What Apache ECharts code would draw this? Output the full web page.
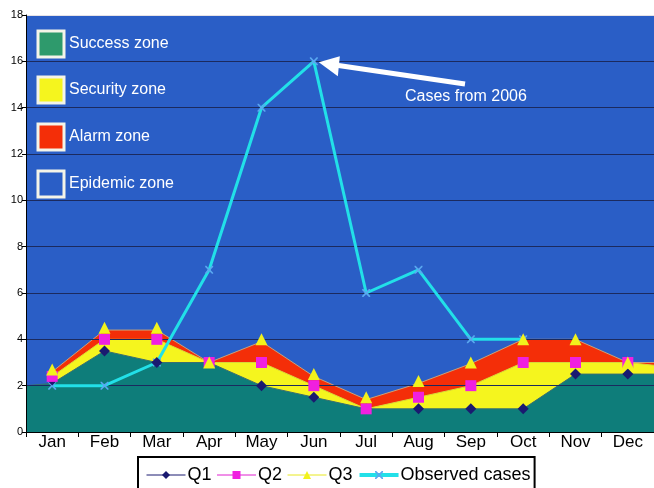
<!DOCTYPE html>
<html><head><meta charset="utf-8">
<script src="https://cdn.jsdelivr.net/npm/echarts@6/dist/echarts.min.js"></script>
<style>html,body{margin:0;padding:0;background:#fff}#c{width:654px;height:488px}</style>
</head><body><div id="c"></div>
<script>
const months = ['Jan','Feb','Mar','Apr','May','Jun','Jul','Aug','Sep','Oct','Nov','Dec'];
const yTicks = [0,2,4,6,8,10,12,14,16,18];
// marker series
const q1 = [2.25,3.5,3,3,2,1.5,1,1,1,1,2.5,2.5];
const q2 = [2.4,4,4,3,3,2,1,1.5,2,3,3,3];
const q3 = [2.7,4.5,4.5,3,4,2.5,1.5,2.2,3,4,4,3];
const observed = [2,2,3,7,14,16,6,7,4,4,null,null];
// zone upper boundaries (monthly) and their values at the plot edges
const successZone = [2.1,3.5,3,3,2,1.5,1,1,1,1,2.5,2.5];
const successEdges = [2,2.5];
const securityZone = [2.4,4,4,3,3,2,1,1.5,2,3,3,3];
const securityEdges = [null,2.88];
const alarmZone = [2.6,4.4,4.4,3,3.9,2.4,1.4,2.1,2.95,4,4,3];
const alarmEdges = [null,3];
const zoneNames = ['Success zone','Security zone','Alarm zone','Epidemic zone'];
const annotationText = 'Cases from 2006';

function zoneData(vals, edges){
  const d = [];
  if (edges[0] !== null) d.push([0, edges[0]]);
  vals.forEach((v,i)=>d.push([i+0.5, v]));
  if (edges[1] !== null) d.push([vals.length, edges[1]]);
  return d;
}
const BLUE = '#2a5ec6', TEAL = '#0e7d7a', YELLOW = '#f5f51e', RED = '#f42e08';
const xSym = 'path://M0,0L1.5,0L5,3.5L8.5,0L10,0L10,1.5L6.5,5L10,8.5L10,10L8.5,10L5,6.5L1.5,10L0,10L0,8.5L3.5,5L0,1.5Z';
const gridColors = yTicks.map((t,i)=> i===yTicks.length-1 ? '#e6e2e6' : '#1b2a5e');

const chart = echarts.init(document.getElementById('c'));
const font = 'Liberation Sans, Arial, sans-serif';
chart.setOption({
  animation:false,
  textStyle:{fontFamily:font},
  grid:{left:26,right:0,top:15,bottom:56,show:true,backgroundColor:BLUE,borderWidth:0,z:0},
  xAxis:[{
    type:'category',data:months,boundaryGap:true,z:1.5,
    axisLine:{lineStyle:{color:'#000',width:1}},
    axisTick:{show:true,length:5,lineStyle:{color:'#000'}},
    axisLabel:{color:'#000',fontSize:17,margin:2,fontFamily:font}
  },{
    type:'value',min:0,max:12,show:false
  }],
  yAxis:{
    type:'value',min:0,max:18,interval:2,z:1.5,
    axisLine:{show:true,lineStyle:{color:'#000',width:1}},
    axisTick:{show:true,length:4,lineStyle:{color:'#000'}},
    axisLabel:{color:'#000',fontSize:11,margin:3,fontFamily:font,
      formatter:v=>yTicks.includes(v)?String(v):''},
    splitLine:{show:true,lineStyle:{color:gridColors,width:1.2}}
  },
  legend:{
    left:138,top:457,padding:[9,4,12,8],itemGap:5,itemWidth:39,itemHeight:10,
    borderColor:'#000',borderWidth:2,backgroundColor:'#fff',
    textStyle:{color:'#000',fontSize:18,fontFamily:font,padding:[0,0,0,-3]},
    data:[
      {name:'Q1',lineStyle:{opacity:1,color:'#1a1a70',width:1}},
      {name:'Q2',lineStyle:{opacity:1,color:'#e020d0',width:1}},
      {name:'Q3',lineStyle:{opacity:1,color:'#e8e820',width:1}},
      {name:'Observed cases',lineStyle:{opacity:1,color:'#22e0e8',width:4}}
    ]
  },
  series:[
    {name:'alarm',type:'line',xAxisIndex:1,data:zoneData(alarmZone,alarmEdges),symbol:'none',z:1,
      lineStyle:{color:'#c9a27a',width:1},areaStyle:{color:RED,opacity:1}},
    {name:'security',type:'line',xAxisIndex:1,data:zoneData(securityZone,securityEdges),symbol:'none',z:1,
      lineStyle:{color:'#d8d83a',width:1},areaStyle:{color:YELLOW,opacity:1}},
    {name:'success',type:'line',xAxisIndex:1,data:zoneData(successZone,successEdges),symbol:'none',z:1,
      lineStyle:{color:'#3a6e70',width:1},areaStyle:{color:TEAL,opacity:1}},
    {name:'Observed cases',type:'line',data:observed,z:3,symbol:xSym,symbolSize:8,
      itemStyle:{color:'#5aa8f0'},lineStyle:{color:'#22e0e8',width:3}},
    {name:'Q1',type:'line',data:q1,z:4,symbol:'diamond',symbolSize:11,
      itemStyle:{color:'#1a1a70'},lineStyle:{opacity:0}},
    {name:'Q2',type:'line',data:q2,z:5,symbol:'rect',symbolSize:11,
      itemStyle:{color:'#f020e0'},lineStyle:{opacity:0}},
    {name:'Q3',type:'line',data:q3,z:6,symbol:'triangle',symbolSize:12,
      itemStyle:{color:'#f2f21c'},lineStyle:{opacity:0}}
  ]
});

// zone key boxes and annotation
const boxColors = ['#2e9a6c', YELLOW, RED, BLUE];
const boxTops = [31,77,124,171];
const g = [];
zoneNames.forEach((n,i)=>{
  g.push({type:'rect',shape:{x:38,y:boxTops[i],width:26,height:26},
    style:{fill:boxColors[i],stroke:'#f4f4e8',lineWidth:3},z:100});
  g.push({type:'text',x:69,y:boxTops[i]+13,
    style:{text:n,fill:'#fff',fontSize:16,fontFamily:font,textVerticalAlign:'middle'},z:100});
});
const tip = chart.convertToPixel({xAxisIndex:0,yAxisIndex:0},['Jun',16]);
const tx = tip[0]+5, ty = tip[1]+1;
g.push({type:'line',shape:{x1:tx+18,y1:ty+3,x2:465,y2:84},style:{stroke:'#fff',lineWidth:5},z:100});
g.push({type:'polygon',shape:{points:[[tx,ty],[tx+21,ty-6],[tx+19,ty+14]]},style:{fill:'#fff'},z:100});
g.push({type:'text',x:405,y:97,style:{text:annotationText,fill:'#fff',fontSize:16,fontFamily:font,textVerticalAlign:'middle'},z:100});
chart.setOption({graphic:g});
</script></body></html>
